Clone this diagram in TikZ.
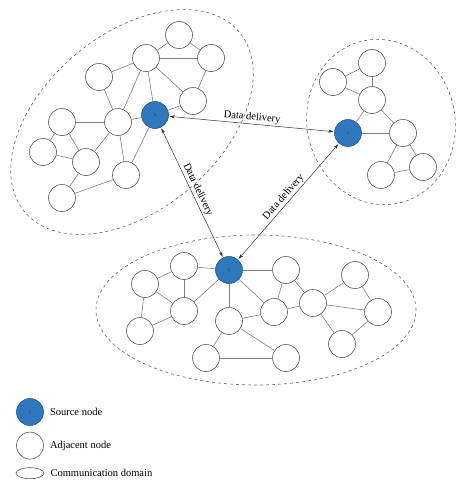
\documentclass[tikz,border=0pt]{standalone}
\usepackage{fontspec}
\setmainfont{Liberation Serif}
\usetikzlibrary{arrows.meta,positioning,shapes.geometric}
\definecolor{srcblue}{RGB}{47,120,189}
\definecolor{srcedge}{RGB}{38,88,140}
\definecolor{lnkgray}{gray}{0.5}
\tikzset{
  adj/.style={circle,draw=black!65,fill=white,minimum size=27pt,inner sep=0pt,
              line width=0.6pt},
  src/.style={adj,draw=srcedge,fill=srcblue,font=\fontsize{4}{4}\selectfont,
              text=black!75},
  dom/.style={draw=black!60,dashed,line width=0.6pt},
  lnk/.style={draw=lnkgray,line width=0.6pt},
  fl/.style={{Stealth[length=5pt,width=3.2pt]}-{Stealth[length=5pt,width=3.2pt]},
             line width=0.5pt,draw=black!80,shorten >=1pt,shorten <=1pt},
  lbl/.style={font=\fontsize{10.5}{12}\selectfont,sloped,above,inner sep=1.5pt},
  key/.style={font=\fontsize{10.5}{12}\selectfont,inner sep=1pt},
}

\begin{document}
\begin{tikzpicture}[x=1pt,y=1pt]
\useasboundingbox (0,0) rectangle (474,-496);
% communication domains
\draw[dom,rotate around={40:(132,-122)}] (132,-122) ellipse [x radius=140pt, y radius=88pt];
\draw[dom,rotate around={12:(381,-122)}] (381,-122) ellipse [x radius=74pt, y radius=83pt];
\draw[dom] (256,-310) ellipse [x radius=160pt, y radius=75pt];
% left domain
\node[adj] (a1) at (179,-35) {};
\node[adj] (a2) at (211,-58) {};
\node[adj] (a3) at (146,-58) {};
\node[adj] (a4) at (99,-77) {};
\node[adj] (a5) at (193,-101) {};
\node[src] (sa) at (155,-115) {S};
\node[adj] (a6) at (118,-122) {};
\node[adj] (a7) at (62,-122) {};
\node[adj] (a8) at (43,-152) {};
\node[adj] (a9) at (86,-162) {};
\node[adj] (a10) at (126,-175) {};
\node[adj] (a11) at (62,-198) {};
\foreach \u/\v in {a1/a2,a1/a3,a3/a2,a3/a4,a3/sa,a3/a5,a3/a6,a2/a5,a5/sa,a4/a6,
                   a6/sa,a6/a7,a6/a9,a6/a10,a7/a8,a7/a9,a8/a9,a9/a11,a11/a10,a10/sa}
  \draw[lnk] (\u) -- (\v);
% right domain
\node[adj] (b1) at (372,-63) {};
\node[adj] (b2) at (333,-82) {};
\node[adj] (b3) at (372,-100) {};
\node[src] (sb) at (348,-133) {S};
\node[adj] (b4) at (403,-133) {};
\node[adj] (b5) at (423,-167) {};
\node[adj] (b6) at (381,-175) {};
\foreach \u/\v in {b2/b1,b2/b3,b1/b3,b3/sb,sb/b4,b3/b4,b4/b6,b4/b5,b6/b5}
  \draw[lnk] (\u) -- (\v);
% bottom domain
\node[src] (sc) at (229,-270) {S};
\node[adj] (c1) at (184,-266) {};
\node[adj] (c2) at (145,-284) {};
\node[adj] (c3) at (184,-311) {};
\node[adj] (c4) at (140,-331) {};
\node[adj] (c5) at (229,-321) {};
\node[adj] (c6) at (206,-358) {};
\node[adj] (c7) at (286,-358) {};
\node[adj] (c8) at (286,-270) {};
\node[adj] (c9) at (274,-312) {};
\node[adj] (c10) at (313,-303) {};
\node[adj] (c11) at (355,-275) {};
\node[adj] (c12) at (378,-312) {};
\node[adj] (c13) at (342,-344) {};
\foreach \u/\v in {c2/c1,c1/c3,c2/c3,c2/c4,c4/c3,c1/sc,c3/sc,sc/c5,sc/c8,sc/c9,
                   c5/c9,c5/c6,c5/c7,c6/c7,c8/c9,c8/c10,c9/c10,c10/c11,c10/c12,
                   c10/c13,c11/c12,c12/c13}
  \draw[lnk] (\u) -- (\v);
% data delivery
\draw[fl] (sa) -- node[lbl] {Data delivery} (sb);
\draw[fl] (sa) -- node[lbl] {Data delivery} (sc);
\draw[fl] (sc) -- node[lbl] {Data delivery} (sb);
% legend
\node[src] (keysrc) at (30,-412) {S};
\node[adj, below=6pt of keysrc] (keyadj) {};
\node[ellipse,draw=black!65,line width=0.6pt,minimum width=28pt,minimum height=11pt,
      inner sep=0pt, below=8pt of keyadj] (keydom) {};
\node[key, right=5pt of keysrc] {Source node};
\node[key, right=5pt of keyadj] {Adjacent node};
\node[key, right=5pt of keydom] {Communication domain};
\end{tikzpicture}
\end{document}
